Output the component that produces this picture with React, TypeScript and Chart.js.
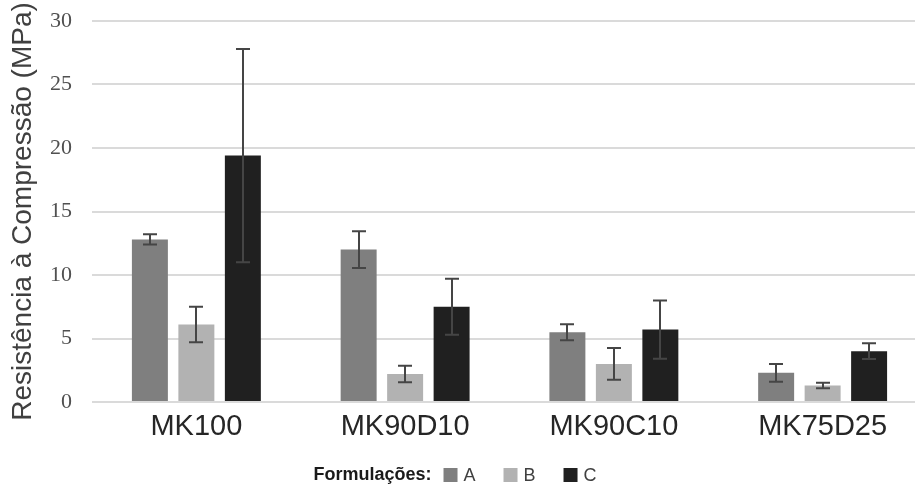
import React, { useEffect, useRef } from "react";
import { Chart, registerables } from "chart.js";

Chart.register(...registerables);

const categories = ["MK100", "MK90D10", "MK90C10", "MK75D25"];
const seriesLabels = ["A", "B", "C"];
const valuesA = [12.8, 12.0, 5.5, 2.3];
const valuesB = [6.1, 2.2, 3.0, 1.3];
const valuesC = [19.4, 7.5, 5.7, 4.0];
const errorsA = [0.4, 1.45, 0.63, 0.7];
const errorsB = [1.4, 0.65, 1.25, 0.22];
const errorsC = [8.4, 2.2, 2.3, 0.62];
const colors = ["#7f7f7f", "#b2b2b2", "#202020"];
const legendTitle = "Formulações:";
const yTitle = "Resistência à Compressão (MPa)";

const errorSets = [errorsA, errorsB, errorsC];

// Draws symmetric error bars on top of every bar, using the y scale.
const errorBarPlugin = {
  id: "errorBars",
  afterDatasetsDraw(chart: any) {
    const ctx = chart.ctx;
    const yScale = chart.scales.y;
    ctx.save();
    ctx.strokeStyle = "#454545";
    ctx.lineWidth = 2;
    chart.data.datasets.forEach((ds: any, i: number) => {
      const meta = chart.getDatasetMeta(i);
      const errs = errorSets[i];
      meta.data.forEach((bar: any, j: number) => {
        const v = ds.data[j];
        const e = errs[j];
        const x = Math.round(bar.x);
        const yTop = yScale.getPixelForValue(v + e);
        const yBot = yScale.getPixelForValue(v - e);
        const cap = 7;
        ctx.beginPath();
        ctx.moveTo(x, yTop);
        ctx.lineTo(x, yBot);
        ctx.moveTo(x - cap, yTop);
        ctx.lineTo(x + cap, yTop);
        ctx.moveTo(x - cap, yBot);
        ctx.lineTo(x + cap, yBot);
        ctx.stroke();
      });
    });
    ctx.restore();
  },
};

// Inline legend at the bottom: bold caption followed by colour boxes.
const inlineLegendPlugin = {
  id: "inlineLegend",
  afterDraw(chart: any) {
    const ctx = chart.ctx;
    ctx.save();
    const y = 475;
    const boldFont = "bold 18px 'Liberation Sans', Arial, sans-serif";
    const normalFont = "18px 'Liberation Sans', Arial, sans-serif";
    ctx.font = boldFont;
    const titleW = ctx.measureText(legendTitle).width;
    ctx.font = normalFont;
    const box = 14;
    const itemWidths = chart.data.datasets.map(
      (ds: any) => box + 6 + ctx.measureText(ds.label).width
    );
    const gapAfterTitle = 12;
    const itemGap = 28;
    const total =
      titleW +
      gapAfterTitle +
      itemWidths.reduce((a: number, b: number) => a + b, 0) +
      itemGap * (itemWidths.length - 1);
    let x = 455 - total / 2;
    ctx.textBaseline = "middle";
    ctx.textAlign = "left";
    ctx.fillStyle = "#1a1a1a";
    ctx.font = boldFont;
    ctx.fillText(legendTitle, x, y);
    x += titleW + gapAfterTitle;
    ctx.font = normalFont;
    chart.data.datasets.forEach((ds: any, i: number) => {
      ctx.fillStyle = ds.backgroundColor;
      ctx.fillRect(x, y - box / 2, box, box);
      ctx.fillStyle = "#404040";
      ctx.fillText(ds.label, x + box + 6, y + 1);
      x += itemWidths[i] + itemGap;
    });
    ctx.restore();
  },
};

export default function App() {
  const canvasRef = useRef<HTMLCanvasElement | null>(null);

  useEffect(() => {
    document.body.style.margin = "0";
    const canvas = canvasRef.current;
    if (!canvas) return;
    const chart = new Chart(canvas, {
      type: "bar",
      data: {
        labels: categories,
        datasets: [valuesA, valuesB, valuesC].map((vals, i) => ({
          label: seriesLabels[i],
          data: vals,
          backgroundColor: colors[i],
          borderWidth: 0,
          categoryPercentage: 0.668,
          barPercentage: 0.774,
        })),
      },
      options: {
        responsive: false,
        animation: false,
        devicePixelRatio: 1,
        layout: { padding: { top: 21, left: 0, right: 0, bottom: 0 } },
        plugins: {
          legend: { display: false },
          tooltip: { enabled: false },
        },
        scales: {
          x: {
            grid: { display: false },
            border: { display: false },
            ticks: {
              padding: 0,
              color: "#262626",
              font: { family: "'Liberation Sans', Arial, sans-serif", size: 29 },
            },
            afterFit(scale: any) {
              scale.height = 82;
            },
          },
          y: {
            min: 0,
            max: 30,
            ticks: {
              stepSize: 5,
              padding: 0,
              color: "#505050",
              font: { family: "'Liberation Serif', 'Times New Roman', serif", size: 22 },
            },
            grid: {
              color: "#dadada",
              lineWidth: 2,
              drawTicks: true,
              tickLength: 20,
              tickColor: "rgba(0,0,0,0)",
            },
            border: { display: false },
            title: {
              display: true,
              text: yTitle,
              color: "#404040",
              padding: { top: 6, bottom: 0 },
              font: { family: "'Liberation Sans', Arial, sans-serif", size: 28, weight: "normal" },
            },
            afterFit(scale: any) {
              scale.width = 92;
            },
          },
        },
      },
      plugins: [errorBarPlugin, inlineLegendPlugin],
    });
    return () => chart.destroy();
  }, []);

  return (
    <div style={{ position: "relative", width: 915, height: 484, overflow: "hidden", background: "#fff" }}>
      <canvas ref={canvasRef} width={927} height={484} style={{ display: "block", width: 927, height: 484 }} />
    </div>
  );
}
